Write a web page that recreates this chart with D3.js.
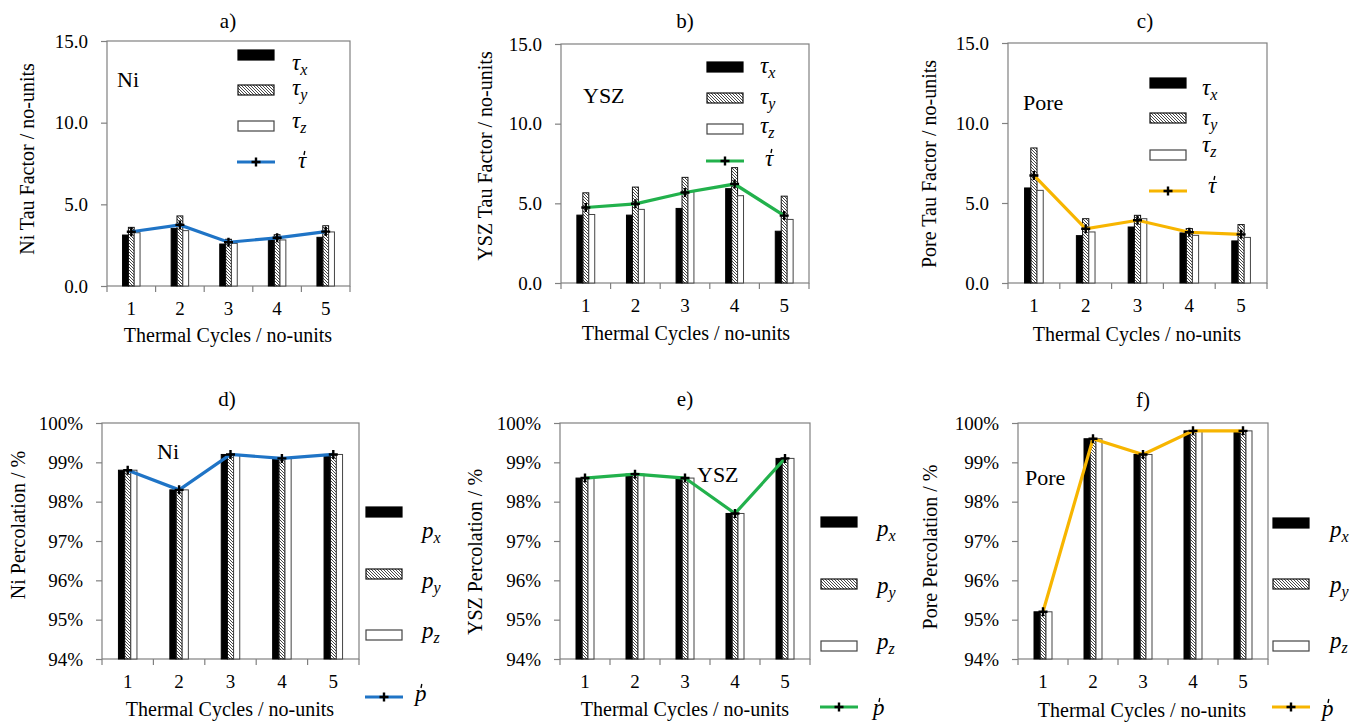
<!DOCTYPE html>
<html lang="en">
<head>
  <meta charset="utf-8">
  <title>Tau factor and percolation vs thermal cycles</title>
  <script src="https://d3js.org/d3.v7.min.js"></script>
  <style>
    body { margin: 0; background: #fff; }
  </style>
</head>
<body>
<script>
// categories
var cycles = [1, 2, 3, 4, 5];
var tauTicks = [0, 5, 10, 15];
var percTicks = [0.94, 0.95, 0.96, 0.97, 0.98, 0.99, 1.00];

// tau factor
var niTauX = [3.12, 3.53, 2.57, 2.88, 2.98];
var niTauY = [3.59, 4.29, 2.86, 3.14, 3.69];
var niTauZ = [3.26, 3.39, 2.61, 2.82, 3.31];
var niTauMean = [3.32, 3.74, 2.68, 2.95, 3.33];

var yszTauX = [4.26, 4.26, 4.68, 5.92, 3.25];
var yszTauY = [5.66, 6.02, 6.63, 7.24, 5.45];
var yszTauZ = [4.30, 4.62, 5.73, 5.48, 3.99];
var yszTauMean = [4.74, 4.97, 5.68, 6.21, 4.23];

var poreTauX = [5.94, 2.96, 3.50, 3.13, 2.63];
var poreTauY = [8.44, 4.02, 4.23, 3.40, 3.65];
var poreTauZ = [5.79, 3.19, 4.02, 2.98, 2.85];
var poreTauMean = [6.72, 3.39, 3.92, 3.17, 3.04];

// percolation
var niPercX = [0.988, 0.983, 0.992, 0.991, 0.992];
var niPercY = [0.988, 0.983, 0.992, 0.991, 0.992];
var niPercZ = [0.988, 0.983, 0.992, 0.991, 0.992];
var niPercMean = [0.988, 0.983, 0.992, 0.991, 0.992];

var yszPercX = [0.986, 0.987, 0.986, 0.977, 0.991];
var yszPercY = [0.986, 0.987, 0.986, 0.977, 0.991];
var yszPercZ = [0.986, 0.987, 0.986, 0.977, 0.991];
var yszPercMean = [0.986, 0.987, 0.986, 0.977, 0.991];

var porePercX = [0.952, 0.996, 0.992, 0.998, 0.998];
var porePercY = [0.952, 0.996, 0.992, 0.998, 0.998];
var porePercZ = [0.952, 0.996, 0.992, 0.998, 0.998];
var porePercMean = [0.952, 0.996, 0.992, 0.998, 0.998];

var blue = '#1f74c6', green = '#22b14c', orange = '#f7b500';
var serif = '"Liberation Serif", "Times New Roman", Times, serif';

var panels = [
  { title: 'a)', sym: '\u03C4', mat: 'Ni', ticks: tauTicks, fmt: d3.format('.1f'),
    sx: niTauX, sy: niTauY, sz: niTauZ, mean: niTauMean, color: blue,
    plot: [107, 41, 350, 286], titleXY: [228, 28], yTitle: 'Ni Tau Factor / no-units', yTitleXY: [34, 159],
    xTitleXY: [228, 342], matXY: [117, 87],
    leg: { x: 238, rows: [55, 90, 126, 162], lx: [292, 292, 292, 298], ly: [70, 95, 128, 168] } },
  { title: 'b)', sym: '\u03C4', mat: 'YSZ', ticks: tauTicks, fmt: d3.format('.1f'),
    sx: yszTauX, sy: yszTauY, sz: yszTauZ, mean: yszTauMean, color: green,
    plot: [561, 44, 809, 283], titleXY: [685, 28], yTitle: 'YSZ Tau Factor / no-units', yTitleXY: [492, 156],
    xTitleXY: [686, 340], matXY: [583, 103],
    leg: { x: 707, rows: [67, 98, 129, 161], lx: [760, 760, 760, 765], ly: [73, 104, 133, 166] } },
  { title: 'c)', sym: '\u03C4', mat: 'Pore', ticks: tauTicks, fmt: d3.format('.1f'),
    sx: poreTauX, sy: poreTauY, sz: poreTauZ, mean: poreTauMean, color: orange,
    plot: [1008, 43, 1267, 283], titleXY: [1145, 28], yTitle: 'Pore Tau Factor / no-units', yTitleXY: [936, 164],
    xTitleXY: [1137, 341], matXY: [1023, 110],
    leg: { x: 1150, rows: [83, 118, 155, 191], lx: [1202, 1202, 1202, 1208], ly: [95, 125, 152, 193] } },
  { title: 'd)', sym: 'p', mat: 'Ni', ticks: percTicks, fmt: d3.format('.0%'),
    sx: niPercX, sy: niPercY, sz: niPercZ, mean: niPercMean, color: blue,
    plot: [102, 423, 359, 659], titleXY: [227, 406], yTitle: 'Ni Percolation / %', yTitleXY: [25, 525],
    xTitleXY: [230, 716], matXY: [157, 459],
    leg: { x: 366, rows: [512, 574, 635, 697], lx: [422, 422, 422, 415], ly: [538, 588, 638, 701] } },
  { title: 'e)', sym: 'p', mat: 'YSZ', ticks: percTicks, fmt: d3.format('.0%'),
    sx: yszPercX, sy: yszPercY, sz: yszPercZ, mean: yszPercMean, color: green,
    plot: [560, 423, 810, 659], titleXY: [685, 406], yTitle: 'YSZ Percolation / %', yTitleXY: [482, 552],
    xTitleXY: [685, 716], matXY: [697, 482],
    leg: { x: 821, rows: [522, 584, 646, 707], lx: [877, 877, 877, 873], ly: [536, 593, 649, 715] } },
  { title: 'f)', sym: 'p', mat: 'Pore', ticks: percTicks, fmt: d3.format('.0%'),
    sx: porePercX, sy: porePercY, sz: porePercZ, mean: porePercMean, color: orange,
    plot: [1018, 423, 1268, 659], titleXY: [1143, 407], yTitle: 'Pore Percolation / %', yTitleXY: [937, 547],
    xTitleXY: [1142, 717], matXY: [1025, 485],
    leg: { x: 1273, rows: [523, 584, 646, 707], lx: [1330, 1330, 1330, 1322], ly: [537, 592, 648, 716] } }
];

var svg = d3.select('body').append('svg')
  .attr('width', 1355)
  .attr('height', 722)
  .attr('font-family', serif);

// diagonal hatch for the y series
svg.append('defs').append('pattern')
  .attr('id', 'hatch')
  .attr('patternUnits', 'userSpaceOnUse')
  .attr('width', 3).attr('height', 3)
  .append('path')
  .attr('d', 'M-1,-1L4,4M-1,2L1,4M2,-1L4,1')
  .attr('stroke', '#333')
  .attr('stroke-width', 0.9);

var axisGray = '#808080';
var series = ['x', 'y', 'z'];
var barStyle = {
  x: { fill: '#000', stroke: '#000' },
  y: { fill: 'url(#hatch)', stroke: '#111' },
  z: { fill: '#fff', stroke: '#444' }
};
var plus = 'M-4.5,0H4.5M0,-4.5V4.5';

function symLabel(g, x, y, sym, sub, bar) {
  var t = g.append('text')
    .attr('x', x).attr('y', y)
    .attr('font-family', serif)
    .attr('font-style', 'italic')
    .attr('font-size', 23);
  t.append('tspan').text(sym);
  if (sub) {
    t.append('tspan').attr('dy', 5).attr('font-size', 16).text(sub);
  }
  if (bar) {
    // small accent above the symbol
    g.append('path')
      .attr('d', 'M' + (x + 6) + ',' + (y - 13) + 'l0.8,-4')
      .attr('stroke', '#000').attr('stroke-width', 1.4);
  }
}

panels.forEach(function (p) {
  var x0 = p.plot[0], y0 = p.plot[1], x1 = p.plot[2], y1 = p.plot[3];
  var g = svg.append('g');

  var x = d3.scaleBand().domain(cycles).range([x0, x1]);
  var grp = x.bandwidth() * 0.36;
  var xi = d3.scaleBand().domain(series).range([0, grp]);
  var off = (x.bandwidth() - grp) / 2;
  var y = d3.scaleLinear()
    .domain([p.ticks[0], p.ticks[p.ticks.length - 1]])
    .range([y1, y0]);

  // frame
  g.append('rect')
    .attr('x', x0).attr('y', y0)
    .attr('width', x1 - x0).attr('height', y1 - y0)
    .attr('fill', 'none')
    .attr('stroke', axisGray)
    .attr('stroke-width', 1.2);

  // y axis
  var ya = g.append('g')
    .attr('transform', 'translate(' + x0 + ',0)')
    .call(d3.axisLeft(y).tickValues(p.ticks).tickFormat(p.fmt).tickSize(6).tickPadding(13));
  ya.attr('font-family', serif).attr('font-size', 19);
  ya.select('.domain').remove();
  ya.selectAll('line').attr('stroke', axisGray).attr('stroke-width', 1.2);

  // x axis labels at category centres, ticks on the category borders
  var xa = g.append('g')
    .attr('transform', 'translate(0,' + y1 + ')')
    .call(d3.axisBottom(x).tickSize(0).tickPadding(16));
  xa.attr('font-family', serif).attr('font-size', 19);
  xa.select('.domain').remove();
  g.selectAll('.xtick')
    .data(d3.range(cycles.length + 1))
    .enter().append('line')
    .attr('x1', function (i) { return x0 + i * x.step(); })
    .attr('x2', function (i) { return x0 + i * x.step(); })
    .attr('y1', y1).attr('y2', y1 + 6)
    .attr('stroke', axisGray).attr('stroke-width', 1.2);

  // bars
  var vals = { x: p.sx, y: p.sy, z: p.sz };
  series.forEach(function (s) {
    g.selectAll('.bar-' + s)
      .data(cycles)
      .enter().append('rect')
      .attr('x', function (c) { return x(c) + off + xi(s); })
      .attr('y', function (c, i) { return y(vals[s][i]); })
      .attr('width', xi.bandwidth())
      .attr('height', function (c, i) { return y1 - y(vals[s][i]); })
      .attr('fill', barStyle[s].fill)
      .attr('stroke', barStyle[s].stroke)
      .attr('stroke-width', 1);
  });

  // mean line
  var cx = function (c) { return x(c) + x.bandwidth() / 2; };
  g.append('path')
    .datum(cycles)
    .attr('d', d3.line().x(cx).y(function (c, i) { return y(p.mean[i]); }))
    .attr('fill', 'none')
    .attr('stroke', p.color)
    .attr('stroke-width', 3.2);
  g.selectAll('.mk')
    .data(cycles)
    .enter().append('path')
    .attr('transform', function (c, i) { return 'translate(' + cx(c) + ',' + y(p.mean[i]) + ')'; })
    .attr('d', plus)
    .attr('stroke', '#000')
    .attr('stroke-width', 2.4);

  // titles
  g.append('text')
    .attr('x', p.titleXY[0]).attr('y', p.titleXY[1])
    .attr('text-anchor', 'middle')
    .attr('font-size', 21)
    .text(p.title);
  g.append('text')
    .attr('x', p.xTitleXY[0]).attr('y', p.xTitleXY[1])
    .attr('text-anchor', 'middle')
    .attr('font-size', 20)
    .text('Thermal Cycles / no-units');
  g.append('text')
    .attr('transform', 'translate(' + p.yTitleXY[0] + ',' + p.yTitleXY[1] + ') rotate(-90)')
    .attr('text-anchor', 'middle')
    .attr('font-size', 20)
    .text(p.yTitle);
  g.append('text')
    .attr('x', p.matXY[0]).attr('y', p.matXY[1])
    .attr('font-size', 22)
    .text(p.mat);

  // legend
  var L = p.leg, w = 36, h = 10;
  series.forEach(function (s, k) {
    g.append('rect')
      .attr('x', L.x).attr('y', L.rows[k] - h / 2)
      .attr('width', w).attr('height', h)
      .attr('fill', barStyle[s].fill)
      .attr('stroke', barStyle[s].stroke)
      .attr('stroke-width', 1.2);
    symLabel(g, L.lx[k], L.ly[k], p.sym, s, false);
  });
  g.append('line')
    .attr('x1', L.x - 1).attr('x2', L.x + w + 1)
    .attr('y1', L.rows[3]).attr('y2', L.rows[3])
    .attr('stroke', p.color).attr('stroke-width', 3.2);
  g.append('path')
    .attr('transform', 'translate(' + (L.x + w / 2) + ',' + L.rows[3] + ')')
    .attr('d', plus)
    .attr('stroke', '#000').attr('stroke-width', 2.4);
  symLabel(g, L.lx[3], L.ly[3], p.sym, null, true);
});
</script>
</body>
</html>
